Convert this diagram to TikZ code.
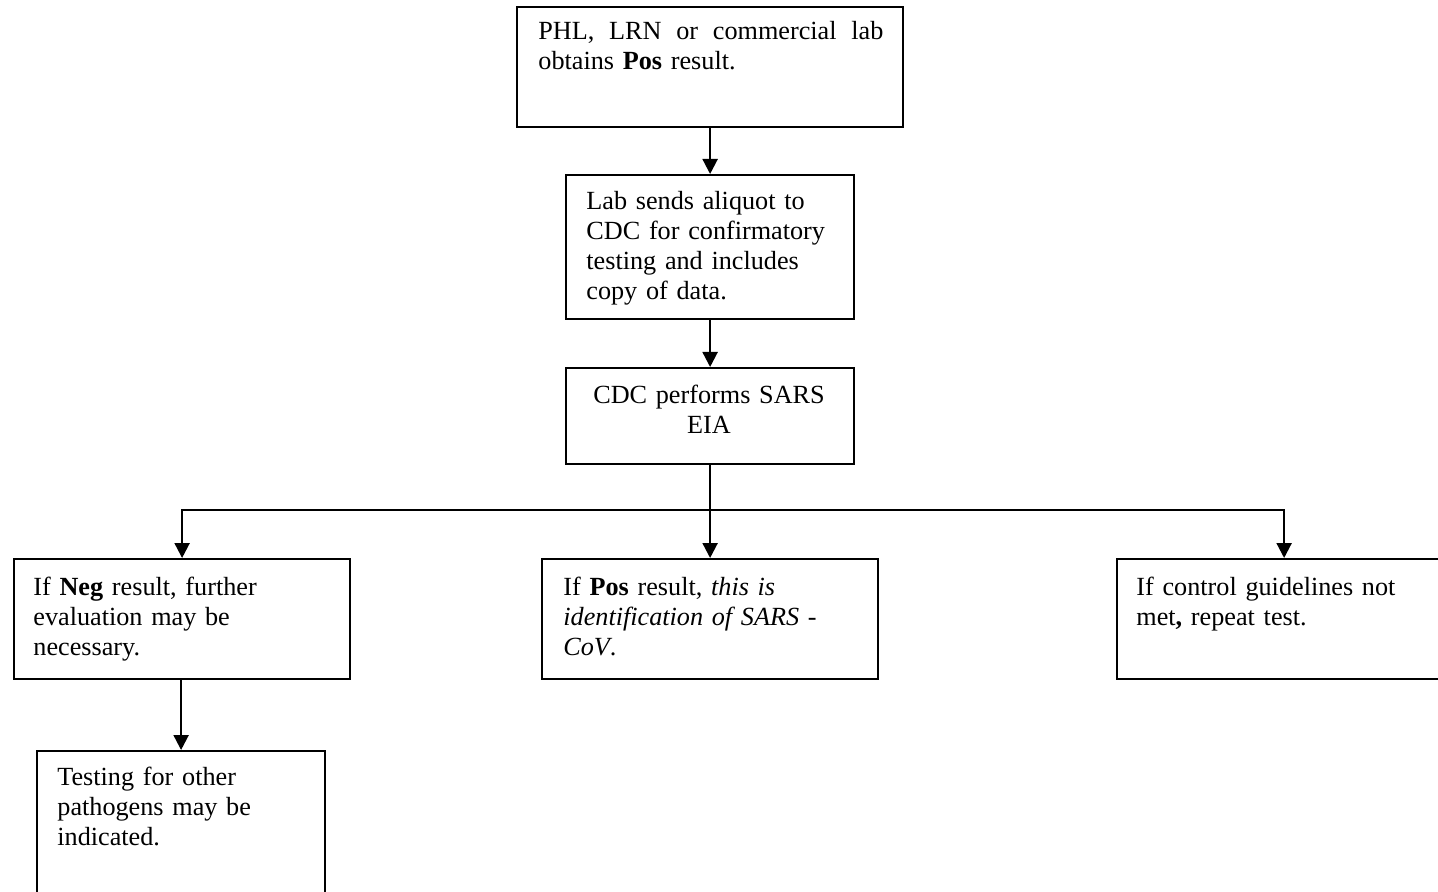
\documentclass[tikz,border=0pt]{standalone}
\usepackage{fontspec}
\setmainfont{Liberation Serif}
\usetikzlibrary{arrows.meta}
\tikzset{
  box/.style={draw, line width=1.1pt, rectangle, inner sep=0pt, anchor=north west},
  txt/.style={anchor=north west, inner sep=0pt, align=left, text width=175pt,
              font=\fontsize{13.1}{15}\selectfont},
  ctxt/.style={anchor=north, inner sep=0pt, align=center, text width=140pt,
              font=\fontsize{13.1}{15}\selectfont},
  conn/.style={line width=1.1pt},
  arr/.style={line width=1.1pt, -{Triangle[length=7.5pt,width=7.5pt]}}
}
\begin{document}
\begin{tikzpicture}[x=0.5pt,y=-0.5pt]
\clip (0,0) rectangle (1438,892);
\fill[white] (0,0) rectangle (1438,892);
% boxes
\node[box, minimum width=193pt, minimum height=60pt] (top) at (516,6) {};
\node[box, minimum width=144pt, minimum height=72pt] (b2) at (565,174) {};
\node[box, minimum width=144pt, minimum height=48pt] (b3) at (565,367) {};
\node[box, minimum width=168pt, minimum height=60pt] (left) at (13,558) {};
\node[box, minimum width=168pt, minimum height=60pt] (mid) at (541,558) {};
\node[box, minimum width=169pt, minimum height=60pt] (right) at (1116,558) {};
\node[box, minimum width=144pt, minimum height=80pt] (bot) at (36,750) {};
% texts
\node[txt] (ttop) at (538,18) {\strut\hbox to 172.5pt{PHL,\hfill LRN\hfill or\hfill commercial\hfill lab}\\obtains \textbf{Pos} result.};
\node[txt] (tb2) at (586,188) {\strut Lab sends aliquot to\\CDC for confirmatory\\testing and includes\\copy of data.};
\node[ctxt] (tb3) at (709,382) {\strut CDC performs SARS\\EIA};
\node[txt] (tleft) at (33,574) {\strut If \textbf{Neg} result, further\\evaluation may be\\necessary.};
\node[txt] (tmid) at (563,574) {\strut If \textbf{Pos} result, \textit{this is}\\\textit{identification of SARS -}\\\textit{CoV}.};
\node[txt] (tright) at (1136,574) {\strut If control guidelines not\\met\textbf{,} repeat test.};
\node[txt] (tbot) at (57,764) {\strut Testing for other\\pathogens may be\\indicated.};
% connectors
\coordinate (j) at (709,510);
\draw[arr] (top.south) -- (b2.north);
\draw[arr] (b2.south) -- (b3.north);
\draw[arr] (b3.south) -- (mid.north);
\draw[arr] (j) -| (left.north);
\draw[arr] (j) -| ([xshift=-1pt]right.north);
\draw[arr] ([xshift=-0.5pt]left.south) -- (bot.north);
\end{tikzpicture}
\end{document}
